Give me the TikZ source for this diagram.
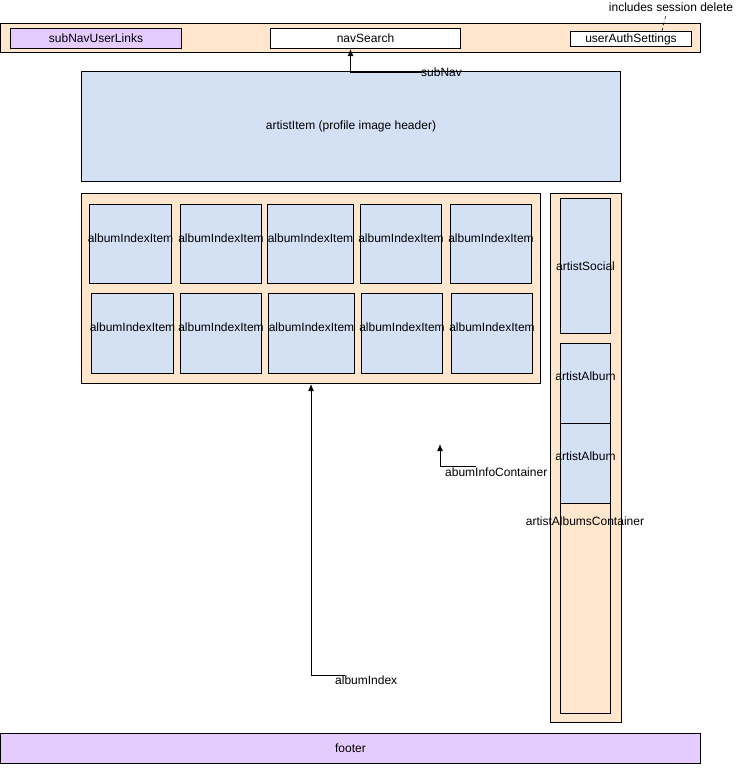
\documentclass[tikz,border=0pt]{standalone}
\usepackage{fontspec}
\setmainfont{Liberation Sans}
\usetikzlibrary{arrows.meta}
\definecolor{peach}{HTML}{FFE6CC}
\definecolor{paleblue}{HTML}{D4E1F5}
\definecolor{lavender}{HTML}{E5CCFF}
\tikzset{
  box/.style={draw=black, line width=1pt, rectangle, inner sep=0pt, anchor=north west},
  panel/.style={box, fill=peach},
  tile/.style={box, fill=paleblue},
  bar/.style={box, fill=lavender},
  plain/.style={box, fill=white},
  lbl/.style={inner sep=0pt, font=\fontsize{12}{14}\selectfont},
  arr/.style={draw=black, line width=1pt, -{Latex[length=7pt,width=6pt]}},
}
\newcommand{\rbox}[6]{% style, name, x0, y0, x1, y1
  \node[#1, minimum width={#5-#3}, minimum height={#6-#4}] (#2) at (#3,#4) {};}
\begin{document}
\begin{tikzpicture}[x=1pt,y=-1pt]
\useasboundingbox (0,0) rectangle (741,772);

% top navigation bar
\rbox{panel}{subnav}{0}{23}{700}{52}
\rbox{bar}{userlinks}{10}{28}{181}{48}
\node[lbl] at (userlinks.center) {subNavUserLinks};
\rbox{plain}{navsearch}{270}{28}{460}{48}
\node[lbl] at (navsearch.center) {navSearch};
\rbox{plain}{authsettings}{570}{31}{691}{46}
\node[lbl] at (authsettings.center) {userAuthSettings};
\node[lbl, anchor=center] (sessionnote) at (671,7) {includes session delete};

% artist header
\rbox{tile}{artistitem}{81}{71}{620}{181}
\node[lbl] at (artistitem.center) {artistItem (profile image header)};

% album index grid
\rbox{panel}{albumindex}{81}{193}{540}{383}
\foreach \i/\xa/\xb in {1/89/171, 2/180/261, 3/267/353, 4/360/441, 5/450/531} {
  \rbox{tile}{itemA\i}{\xa}{204}{\xb}{283}
  \node[lbl] at ([yshift=6pt]itemA\i.center) {albumIndexItem};
}
\foreach \i/\xa/\xb in {1/91/173, 2/180/261, 3/268/354, 4/361/442, 5/451/532} {
  \rbox{tile}{itemB\i}{\xa}{293}{\xb}{373}
  \node[lbl] at ([yshift=6pt]itemB\i.center) {albumIndexItem};
}

% right column
\rbox{panel}{artistcol}{550}{193}{621}{722}
\rbox{tile}{artistsocial}{560}{198}{610}{333}
\node[lbl] at (artistsocial.center) {artistSocial};
\rbox{panel}{albumscontainer}{560}{343}{610}{713}
\rbox{tile}{artistalbumA}{560}{343}{610}{423}
\node[lbl] at ([yshift=7pt]artistalbumA.center) {artistAlbum};
\rbox{tile}{artistalbumB}{560}{423}{610}{503}
\node[lbl] at ([yshift=7pt]artistalbumB.center) {artistAlbum};
\node[lbl] at (585,521) {artistAlbumsContainer};

% footer
\rbox{bar}{footer}{0}{733}{700}{763}
\node[lbl] at (footer.center) {footer};

% annotation labels
\node[lbl, anchor=west] (subnavlbl) at (421,72) {subNav};
\node[lbl, anchor=west] (albumindexlbl) at (335,680) {albumIndex};
\node[lbl, anchor=west] (infolbl) at (445,472) {abumInfoContainer};
\coordinate (albumindexend) at (345,675);
\coordinate (infoend) at (476,466);
\coordinate (infotip) at (440,444);

% connectors, drawn on top of the boxes
\draw[line width=0.6pt, dash pattern=on 3pt off 3pt] ([xshift=31pt]authsettings.north) -- ([xshift=-5pt,yshift=-3pt]sessionnote.south);
\draw[arr] ([xshift=1pt]subnavlbl.west) -| ([xshift=-15pt]navsearch.south);
\draw[arr] (albumindexend) -| (albumindex.south);
\draw[arr] (infoend) -| (infotip);
\end{tikzpicture}
\end{document}
